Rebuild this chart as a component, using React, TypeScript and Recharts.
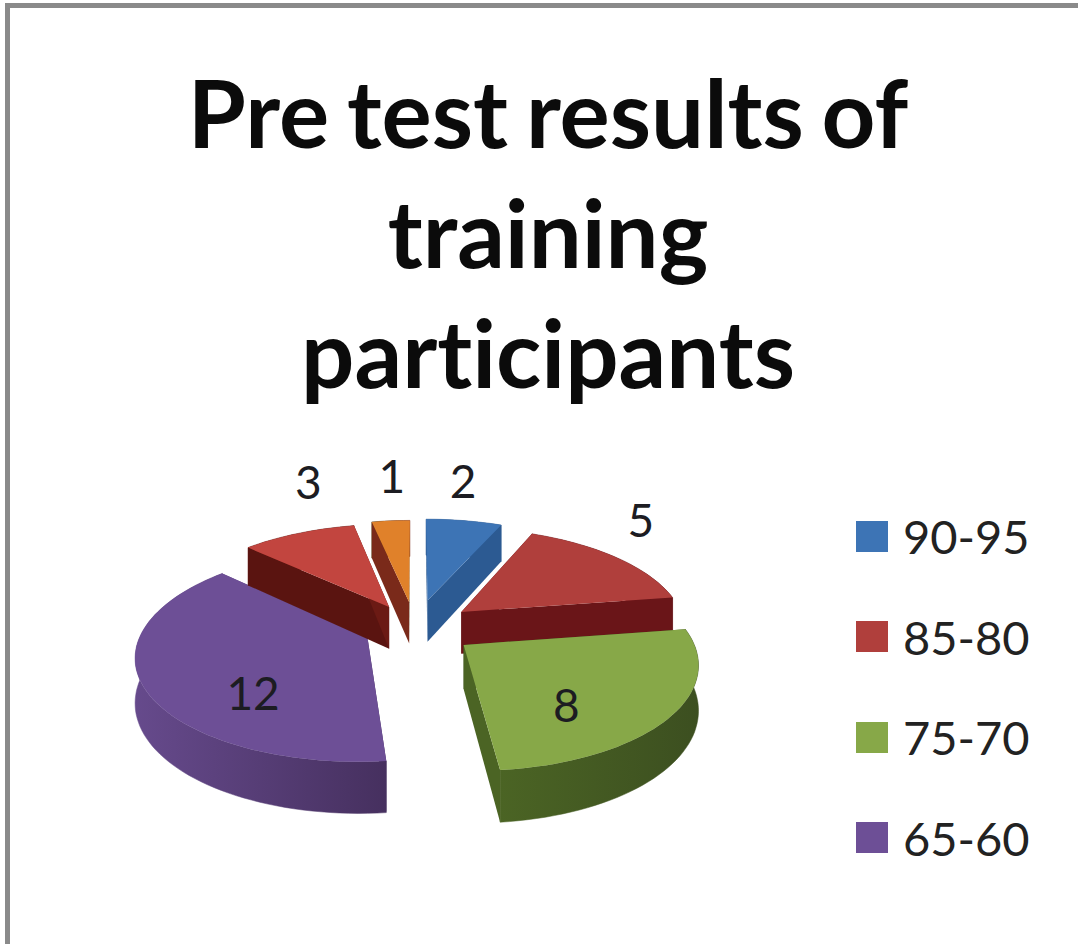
import { PieChart, Pie, Cell, Legend } from "recharts";

// slices run clockwise from the top, the last two have no legend entry in the picture
const categories = ["90-95", "85-80", "75-70", "65-60", "", ""];
const counts = [2, 5, 8, 12, 3, 1];
const faceColors = ["#3d74b5", "#b03f3c", "#87a848", "#6d4f96", "#c2453f", "#e0812a"];
const wallLight = ["#2c5a92", "#6a1518", "#4b6424", "#664a8c", "#6b1a14", "#4e3a12"];
const wallDark = ["#2c5a92", "#5f1218", "#3c4f20", "#46305f", "#5a1410", "#7a2a1a"];
const explode = [65, 60, 60, 52, 55, 60];
const labelOffsetX = [-1, 24, -104, 109, 10, 1];
const labelOffsetY = [-40, -38, -12, 5, -52, -45];

const chartData = categories.map((name, i) => ({ name, value: counts[i] }));

const WIDTH = 1078;
const HEIGHT = 944;
const CX = 415;
const CY = 628;
const RADIUS = 225;
const TILT = 0.45;
const PERSPECTIVE = 0.151;
const DEPTH = 43;

// phi is degrees clockwise from the top, recharts angles are counter clockwise from 3 o'clock
function project(cx: number, cy: number, r: number, angle: number, offset: number, mid: number, lift = 0) {
  const a = ((90 - angle) * Math.PI) / 180;
  const m = ((90 - mid) * Math.PI) / 180;
  const gx = r * Math.sin(a) + offset * Math.sin(m);
  const gv = r * Math.cos(a) + offset * Math.cos(m);
  const s = 1 / (1 + (PERSPECTIVE * gv) / RADIUS);
  return [cx + gx * s, cy - TILT * gv * s + lift * s];
}

const toPath = (pts: number[][]) =>
  "M" + pts.map((p) => p[0].toFixed(1) + "," + p[1].toFixed(1)).join("L") + "Z";

function Slice3D(props: any) {
  const { cx, cy, outerRadius, startAngle, endAngle, index, fill } = props;
  const i = index ?? 0;
  const mid = (startAngle + endAngle) / 2;
  const off = explode[i];
  const steps = Math.max(2, Math.ceil(Math.abs(startAngle - endAngle) / 2));
  const arcTop: number[][] = [];
  const arcBottom: number[][] = [];
  for (let k = 0; k <= steps; k++) {
    const a = startAngle + ((endAngle - startAngle) * k) / steps;
    arcTop.push(project(cx, cy, outerRadius, a, off, mid));
    arcBottom.push(project(cx, cy, outerRadius, a, off, mid, DEPTH));
  }
  const apexTop = project(cx, cy, 0, mid, off, mid);
  const apexBottom = project(cx, cy, 0, mid, off, mid, DEPTH);
  const last = arcTop.length - 1;
  const gradId = "wall" + i;
  const wall = "url(#" + gradId + ")";
  const outer = (
    <path d={toPath([...arcTop, ...arcBottom.slice().reverse()])} fill={wall} stroke={wall} strokeWidth={0.5} />
  );
  const isBack = Math.sin((mid * Math.PI) / 180) > 0;
  return (
    <g>
      <defs>
        <linearGradient id={gradId} x1="0" y1="0" x2="1" y2="0">
          <stop offset="0%" stopColor={wallLight[i]} />
          <stop offset="100%" stopColor={wallDark[i]} />
        </linearGradient>
      </defs>
      {isBack && outer}
      <path d={toPath([apexTop, arcTop[0], arcBottom[0], apexBottom])} fill={wallDark[i]} />
      <path d={toPath([apexTop, arcTop[last], arcBottom[last], apexBottom])} fill={wallLight[i]} />
      {!isBack && outer}
      <path d={toPath([apexTop, ...arcTop])} fill={fill} />
    </g>
  );
}

function SliceLabel(props: any) {
  const { cx, cy, outerRadius, midAngle, index, value } = props;
  const [x, y] = project(cx, cy, outerRadius, midAngle, explode[index], midAngle);
  return (
    <text
      x={x + labelOffsetX[index]}
      y={y + labelOffsetY[index]}
      textAnchor="middle"
      dominantBaseline="central"
      fontFamily="Lato"
      fontSize={46}
      fill="#1c1c22"
    >
      {value}
    </text>
  );
}

function LegendList(props: any) {
  const items = (props.payload || []).filter((p: any) => p.value);
  return (
    <div>
      {items.map((p: any) => (
        <div key={p.value} style={{ display: "flex", alignItems: "center", height: 100.5 }}>
          <span style={{ width: 32, height: 31, background: p.color, marginRight: 15 }} />
          <span style={{ fontFamily: "Lato", fontSize: 47, color: "#222" }}>{p.value}</span>
        </div>
      ))}
    </div>
  );
}

const titleLines = ["Pre test results of", "training", "participants"];

export default function App() {
  return (
    <div style={{ position: "absolute", left: 0, top: 0, width: WIDTH, height: HEIGHT, background: "#fff", overflow: "hidden" }}>
      <div style={{ position: "absolute", left: 5, top: 3, right: 0, bottom: 0, borderLeft: "5px solid #8a8a8a", borderTop: "5px solid #8a8a8a" }} />
      <div
        style={{
          position: "absolute",
          left: 0,
          top: 52,
          width: 1096,
          textAlign: "center",
          fontFamily: "Lato",
          fontWeight: 700,
          fontSize: 94,
          lineHeight: "120px",
          wordSpacing: -5,
          fontVariantLigatures: "none",
          color: "#0b0b0b",
        }}
      >
        {titleLines.map((t) => (
          <div key={t}>{t}</div>
        ))}
      </div>
      <div style={{ position: "absolute", left: 0, top: 0 }}>
        <PieChart width={WIDTH} height={HEIGHT} margin={{ top: 0, right: 0, bottom: 0, left: 0 }}>
          <Pie
            data={chartData}
            dataKey="value"
            nameKey="name"
            cx={CX}
            cy={CY}
            outerRadius={RADIUS}
            startAngle={90}
            endAngle={-270}
            stroke="none"
            shape={Slice3D}
            label={SliceLabel}
            labelLine={false}
            isAnimationActive={false}
          >
            {chartData.map((_, index) => (
              <Cell key={index} fill={faceColors[index]} />
            ))}
          </Pie>
          <Legend
            content={LegendList}
            layout="vertical"
            itemSorter={null}
            wrapperStyle={{ position: "absolute", left: 856, top: 486, width: 220 }}
          />
        </PieChart>
      </div>
    </div>
  );
}
